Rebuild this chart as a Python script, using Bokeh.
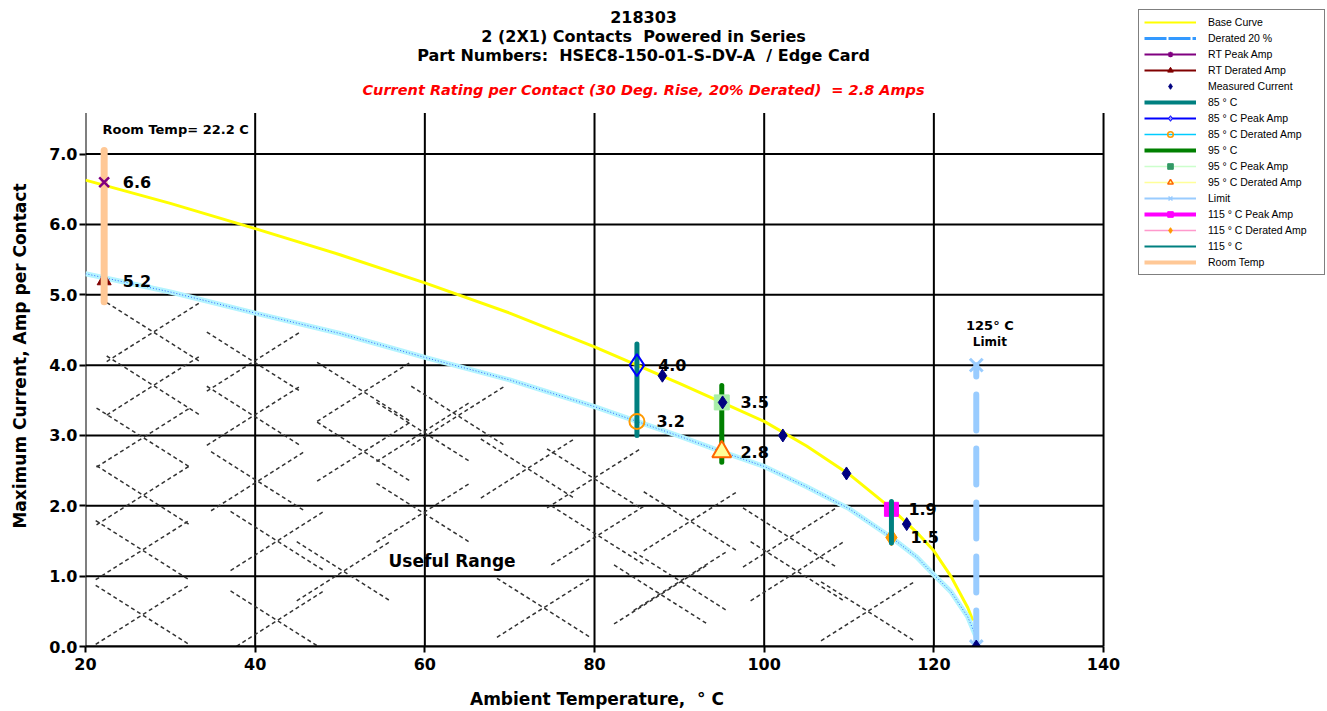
from bokeh.plotting import figure
from bokeh.models import Range1d, FixedTicker, Label, Legend, LegendItem, PrintfTickFormatter
from bokeh.embed import file_html
from bokeh.resources import INLINE

# ---------------- data ----------------
base_temp = [20, 30, 40, 50, 60, 70, 80, 85, 90, 95, 100, 105, 110, 115, 118, 120, 122, 124, 124.6]
base_amp = [6.63, 6.30, 5.94, 5.57, 5.17, 4.74, 4.26, 4.00, 3.74, 3.47, 3.20, 2.85, 2.45, 1.96, 1.62, 1.36, 1.00, 0.55, 0.37]

derated_temp = [20, 30, 40, 50, 60, 70, 80, 85, 90, 95, 100, 105, 110, 115, 118, 120, 122, 124, 125]
derated_amp = [5.30, 5.04, 4.74, 4.45, 4.11, 3.79, 3.41, 3.20, 2.99, 2.77, 2.56, 2.27, 1.96, 1.55, 1.27, 1.02, 0.78, 0.42, 0.13]

measured_temp = [88.0, 95.1, 102.2, 109.7, 116.8, 125.0]
measured_amp = [3.85, 3.47, 3.00, 2.46, 1.74, 0.00]

room_temp = 22.2
rt_peak_amp = 6.6
rt_derated_amp = 5.2
room_bar = [4.9, 7.05]

t85, peak85, derated85 = 85, 4.0, 3.2
bar85 = [3.0, 4.3]
t95, peak95, derated95 = 95, 3.47, 2.77
bar95 = [2.62, 3.71]
t115, peak115, derated115 = 115, 1.95, 1.55
bar115 = [1.47, 2.06]
limit_temp = 125
limit_amp = [0.0, 4.0]

value_labels = ["6.6", "5.2", "4.0", "3.2", "3.5", "2.8", "1.9", "1.5"]

x_ticks = [20, 40, 60, 80, 100, 120, 140]
y_ticks = [0, 1, 2, 3, 4, 5, 6, 7]
x_lo, x_hi = 20, 140
y_lo, y_hi = 0, 7.585

# centres of the dashed "X" hatch marks in the useful range
hatch_x = [28.0, 28.0, 26.8, 26.8, 26.7, 26.7, 39.8, 39.8, 40.3, 42.6, 42.6,
           52.8, 52.8, 50.4, 59.8, 59.8, 63.9, 72.1, 74.0, 79.9, 80.4,
           87.8, 90.1, 91.3, 103.9, 103.0, 112.2]
hatch_y = [4.47, 3.71, 2.97, 2.15, 1.37, 0.45, 4.05, 3.28, 2.35, 1.50, 0.37,
           3.62, 2.77, 1.07, 3.05, 1.90, 3.28, 2.53, 0.55, 2.39, 1.58,
           0.74, 0.93, 1.78, 1.07, 1.55, 0.50]

FONT = "DejaVu Sans"
LFONT = "Liberation Sans"
NAN = float("nan")
NBSP = "\u00a0"

# frame: left edge at x=85px, bottom at y=649px; it runs to the top and right edges
p = figure(width=1327, height=711, output_backend="svg", toolbar_location=None,
           x_range=Range1d(20, 166.40), y_range=Range1d(0, 9.184),
           min_border_left=85, min_border_right=0, min_border_top=0,
           min_border_bottom=62, title=None)
p.outline_line_color = None
p.background_fill_color = "white"
p.border_fill_color = "white"
p.grid.visible = False

for ax, ticks in ((p.xaxis[0], x_ticks), (p.yaxis[0], y_ticks)):
    ax.ticker = FixedTicker(ticks=ticks)
    ax.axis_line_color = "black"
    ax.axis_line_width = 2
    ax.major_tick_line_color = "black"
    ax.major_tick_line_width = 2
    ax.major_tick_in = 0
    ax.major_tick_out = 6
    ax.minor_tick_line_color = None
    ax.major_label_text_font = FONT
    ax.major_label_text_font_style = "bold"
    ax.major_label_text_font_size = "16px"
    ax.major_label_text_color = "black"
    ax.axis_label_text_font = FONT
    ax.axis_label_text_font_style = "bold"
    ax.axis_label_text_color = "black"
    ax.axis_label_text_font_size = "17px"
p.xaxis[0].bounds = (x_lo, x_hi)
p.xaxis[0].major_label_standoff = 5
# trailing no-break spaces shift the centred label to sit under the 20-140 axis
p.xaxis[0].axis_label = "Ambient Temperature," + NBSP + " ° C" + NBSP * 37
p.xaxis[0].axis_label_standoff = 16
p.yaxis[0].axis_line_color = None
p.yaxis[0].major_label_standoff = 2
p.yaxis[0].formatter = PrintfTickFormatter(format="%.1f")
p.yaxis[0].axis_label = "Maximum Current, Amp per Contact" + NBSP * 11
p.yaxis[0].axis_label_standoff = 16

# grid lines drawn from the tick arrays, limited to the plot area
p.segment(x0=x_ticks, y0=[y_lo] * len(x_ticks), x1=x_ticks, y1=[y_hi] * len(x_ticks),
          line_color="black", line_width=2)
p.segment(x0=[x_lo] * len(y_ticks), y0=y_ticks, x1=[x_hi] * len(y_ticks), y1=y_ticks,
          line_color="black", line_width=2)

# hatch crosses
hw, hh = 5.5, 0.42
x0 = [c - hw for c in hatch_x] * 2
x1 = [c + hw for c in hatch_x] * 2
y0 = [c - hh for c in hatch_y] + [c + hh for c in hatch_y]
y1 = [c + hh for c in hatch_y] + [c - hh for c in hatch_y]
p.segment(x0=x0, y0=y0, x1=x1, y1=y1, line_color="#333333", line_width=1.5,
          line_dash="4 3")

# curves
p.line(base_temp, base_amp, line_color="#FFFF00", line_width=3)
p.line(derated_temp, derated_amp, line_color="#B4F4FF", line_width=5)
p.line(derated_temp, derated_amp, line_color="#3366FF", line_width=1, line_dash="1 2")

# vertical bars and markers
p.scatter([room_temp], [rt_derated_amp], marker="triangle", size=14, fill_color="#800000", line_color="#800000")
p.line([room_temp, room_temp], room_bar, line_color="#FFC896", line_width=7, line_cap="round")
p.scatter([room_temp], [rt_peak_amp], marker="x", size=14, line_color="#800080", line_width=2.5)
p.line([t85, t85], bar85, line_color="#008080", line_width=5, line_cap="round")
p.line([t95, t95], bar95, line_color="#008000", line_width=5, line_cap="round")
p.line([limit_temp, limit_temp], limit_amp, line_color="#99CCFF", line_width=6,
       line_dash="36 18", line_cap="round")
p.scatter([t85], [peak85], marker="diamond", size=22, fill_color=None, line_color="#0000FF", line_width=2)
p.scatter([t85], [derated85], marker="circle", size=15, fill_color=None, line_color="#FF9900", line_width=2)
p.scatter([t95], [peak95], marker="square", size=15, fill_color="#A8EEA8", line_color="#A8EEA8")
p.scatter([t95], [derated95], marker="triangle", size=19, fill_color="#FFFF99", line_color="#FF6600", line_width=2)
p.scatter([t115], [peak115], marker="square", size=14, fill_color="#FF00FF", line_color="#FF00FF")
p.scatter([t115], [derated115], marker="diamond", size=17, fill_color="#FF9900", line_color="#FF9900")
p.line([t115, t115], bar115, line_color="#008080", line_width=5, line_cap="round")
p.scatter([limit_temp, limit_temp], limit_amp, marker="x", size=18, line_color="#99CCFF", line_width=3)
p.scatter(measured_temp, measured_amp, marker="diamond", size=13, fill_color="#000080", line_color="#000080")

# value labels
label_pos = [(24.4, rt_peak_amp), (24.4, rt_derated_amp), (87.5, peak85), (87.3, derated85),
             (97.2, peak95), (97.2, derated95), (117.0, peak115), (117.25, derated115)]
for txt, (lx, ly) in zip(value_labels, label_pos):
    p.add_layout(Label(x=lx, y=ly, text=txt, text_font=FONT, text_font_style="bold",
                       text_font_size="16px", text_baseline="middle", text_align="left",
                       text_color="black"))

def lab(x, y, text, size, style="bold", color="black", align="center"):
    p.add_layout(Label(x=x, y=y, text=text, text_font=FONT, text_font_style=style,
                       text_font_size=size, text_color=color, text_align=align,
                       text_baseline="middle"))

lab(22.0, 7.344, "Room Temp= 22.2 C", "13px", align="left")
lab(126.6, 4.56, "125° C", "13px")
lab(126.6, 4.334, "Limit", "12px")
lab(55.72, 1.217, "Useful Range", "17px", align="left")

# titles
lab(85.78, 8.943, "218303", "16px")
lab(85.78, 8.674, "2 (2X1) Contacts" + NBSP + " Powered in Series", "16px")
lab(85.78, 8.405, "Part Numbers:" + NBSP + " HSEC8-150-01-S-DV-A" + NBSP + " / Edge Card", "16px")
lab(85.78, 7.910, "Current Rating per Contact (30 Deg. Rise, 20% Derated)" + NBSP + " = 2.8 Amps", "14.5px",
    style="bold italic", color="#FF0000")

# legend (legend-only renderers whose single point is NaN, so nothing is drawn in the plot)
def item(label, line=None, marker=None):
    rs = []
    if line:
        rs.append(p.line(x=[NAN], y=[NAN], **line))
    if marker:
        rs.append(p.scatter(x=[NAN], y=[NAN], **marker))
    return LegendItem(label=label, renderers=rs)

items = [
    item("Base Curve", dict(line_color="#FFFF00", line_width=2)),
    item("Derated 20 %", dict(line_color="#3399FF", line_width=3, line_dash="22 2")),
    item("RT Peak Amp", dict(line_color="#800080", line_width=2),
         dict(marker="asterisk", size=8, line_color="#800080", line_width=1.5)),
    item("RT Derated Amp", dict(line_color="#800000", line_width=2),
         dict(marker="triangle", size=8, fill_color="#800000", line_color="#800000")),
    item("Measured Current", None,
         dict(marker="diamond", size=8, fill_color="#000080", line_color="#000080")),
    item("85 ° C", dict(line_color="#008080", line_width=4)),
    item("85 ° C Peak Amp", dict(line_color="#0000FF", line_width=2),
         dict(marker="diamond", size=7, fill_color="#9999FF", line_color="#0000FF")),
    item("85 ° C Derated Amp", dict(line_color="#00CCFF", line_width=1.5),
         dict(marker="circle", size=7, fill_color=None, line_color="#FF9900", line_width=1.5)),
    item("95 ° C", dict(line_color="#008000", line_width=4)),
    item("95 ° C Peak Amp", dict(line_color="#CCFFCC", line_width=1.5),
         dict(marker="square", size=6, fill_color="#339966", line_color="#339966")),
    item("95 ° C Derated Amp", dict(line_color="#FFFF99", line_width=1.5),
         dict(marker="triangle", size=8, fill_color="#FFFF99", line_color="#FF6600", line_width=1.5)),
    item("Limit", dict(line_color="#99CCFF", line_width=2),
         dict(marker="x", size=8, line_color="#99CCFF", line_width=1.5)),
    item("115 ° C Peak Amp", dict(line_color="#FF00FF", line_width=4),
         dict(marker="square", size=8, fill_color="#FF00FF", line_color="#FF00FF")),
    item("115 ° C Derated Amp", dict(line_color="#FF99CC", line_width=1.5),
         dict(marker="diamond", size=8, fill_color="#FF9900", line_color="#FF9900")),
    item("115 ° C", dict(line_color="#008080", line_width=2)),
    item("Room Temp", dict(line_color="#FFC896", line_width=4)),
]

legend = Legend(items=items, location=(1053, 371), orientation="vertical")
legend.label_text_font = LFONT
legend.label_text_font_size = "10.5px"
legend.label_text_color = "black"
legend.glyph_width = 52
legend.glyph_height = 14
legend.label_height = 14
legend.label_width = 111
legend.label_standoff = 12
legend.spacing = 2
legend.padding = 5
legend.margin = 0
legend.border_line_color = "black"
legend.border_line_width = 1
legend.background_fill_color = "white"
legend.background_fill_alpha = 1
p.add_layout(legend)

open("out.html", "w").write(file_html(p, INLINE))
